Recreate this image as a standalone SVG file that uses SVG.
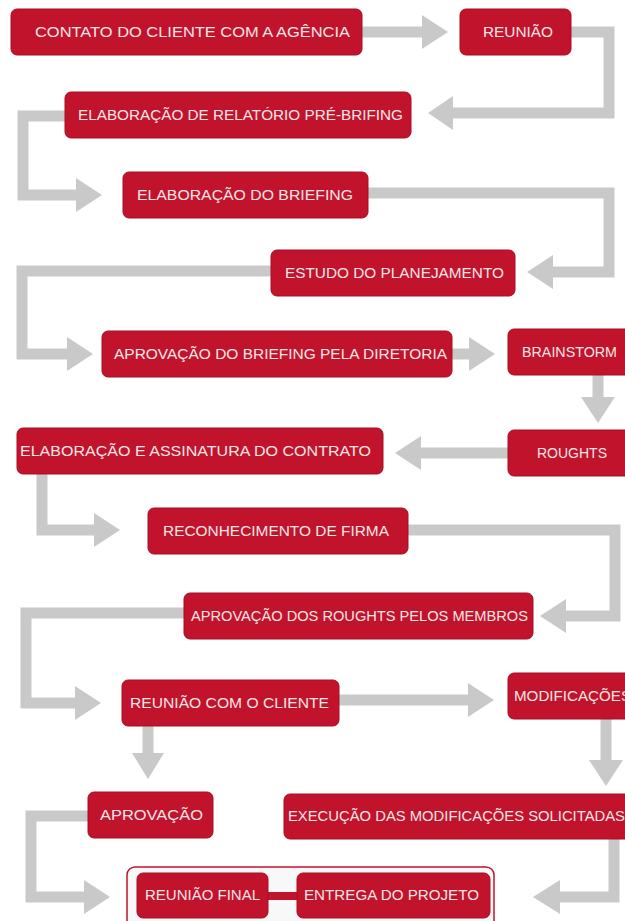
<svg xmlns="http://www.w3.org/2000/svg" width="625" height="921" viewBox="0 0 625 921">
<style>
.n{fill:#c1132b;stroke:#a90f24;stroke-width:1}
.t{fill:#f7e6e6;font-family:"Liberation Sans",Arial,sans-serif;font-size:14px;text-anchor:start}
.c{fill:none;stroke:#c9c9c9;stroke-width:11;stroke-linejoin:miter}
.h{fill:#c9c9c9}
</style>
<rect width="625" height="921" fill="#ffffff"/>
<g id="connectors">
<path class="c" d="M362,32 H423"/><polygon class="h" points="422,15 448,32 422,49"/>
<path class="c" d="M571,32 H609 V113 H452"/><polygon class="h" points="453,96 428,113 453,130"/>
<path class="c" d="M65,116 H23 V195 H77"/><polygon class="h" points="76,178 102,195 76,212"/>
<path class="c" d="M368,193 H609 V272 H552"/><polygon class="h" points="553,255 527,272 553,289"/>
<path class="c" d="M271,271 H22 V354 H68"/><polygon class="h" points="67,337 93,354 67,371"/>
<path class="c" d="M452,354 H470"/><polygon class="h" points="469,337 495,354 469,371"/>
<path class="c" d="M598,375 V398"/><polygon class="h" points="581,397 598,423 615,397"/>
<path class="c" d="M508,453 H420"/><polygon class="h" points="421,436 395,453 421,470"/>
<path class="c" d="M42,474 V530 H95"/><polygon class="h" points="94,513 120,530 94,547"/>
<path class="c" d="M408,530 H615 V616 H565"/><polygon class="h" points="566,599 540,616 566,633"/>
<path class="c" d="M184,613 H26 V703 H76"/><polygon class="h" points="75,686 101,703 75,720"/>
<path class="c" d="M339,700 H469"/><polygon class="h" points="468,683 494,700 468,717"/>
<path class="c" d="M148,726 V754"/><polygon class="h" points="132,753 148,779 164,753"/>
<path class="c" d="M606,719 V761"/><polygon class="h" points="589,760 606,786 623,760"/>
<path class="c" d="M88,816 H31 V897 H85"/><polygon class="h" points="84,880 110,897 84,914"/>
<path class="c" d="M614,839 V897 H559"/><polygon class="h" points="560,880 533,897 560,914"/>
</g>
<g id="n1"><rect class="n" x="11" y="9" width="351" height="46" rx="6"/><text class="t" x="35" y="37" textLength="315" lengthAdjust="spacingAndGlyphs">CONTATO DO CLIENTE COM A AGÊNCIA</text></g>
<g id="n2"><rect class="n" x="460" y="9" width="111" height="46" rx="6"/><text class="t" x="483" y="37" textLength="70" lengthAdjust="spacingAndGlyphs">REUNIÃO</text></g>
<g id="n3"><rect class="n" x="65" y="92" width="346" height="46" rx="6"/><text class="t" x="78" y="120" textLength="325" lengthAdjust="spacingAndGlyphs">ELABORAÇÃO DE RELATÓRIO PRÉ-BRIFING</text></g>
<g id="n4"><rect class="n" x="123" y="172" width="245" height="46" rx="6"/><text class="t" x="137" y="200" textLength="216" lengthAdjust="spacingAndGlyphs">ELABORAÇÃO DO BRIEFING</text></g>
<g id="n5"><rect class="n" x="271" y="250" width="244" height="46" rx="6"/><text class="t" x="285" y="278" textLength="219" lengthAdjust="spacingAndGlyphs">ESTUDO DO PLANEJAMENTO</text></g>
<g id="n6"><rect class="n" x="102" y="331" width="350" height="46" rx="6"/><text class="t" x="114" y="359" textLength="333" lengthAdjust="spacingAndGlyphs">APROVAÇÃO DO BRIEFING PELA DIRETORIA</text></g>
<g id="n7"><rect class="n" x="508" y="329" width="130" height="46" rx="6"/><text class="t" x="522" y="357" textLength="95" lengthAdjust="spacingAndGlyphs">BRAINSTORM</text></g>
<g id="n8"><rect class="n" x="508" y="430" width="130" height="46" rx="6"/><text class="t" x="537" y="458" textLength="70" lengthAdjust="spacingAndGlyphs">ROUGHTS</text></g>
<g id="n9"><rect class="n" x="17" y="428" width="366" height="46" rx="6"/><text class="t" x="20" y="456" textLength="351" lengthAdjust="spacingAndGlyphs">ELABORAÇÃO E ASSINATURA DO CONTRATO</text></g>
<g id="n10"><rect class="n" x="148" y="508" width="260" height="46" rx="6"/><text class="t" x="163" y="536" textLength="226" lengthAdjust="spacingAndGlyphs">RECONHECIMENTO DE FIRMA</text></g>
<g id="n11"><rect class="n" x="184" y="593" width="349" height="46" rx="6"/><text class="t" x="191" y="621" textLength="337" lengthAdjust="spacingAndGlyphs">APROVAÇÃO DOS ROUGHTS PELOS MEMBROS</text></g>
<g id="n12"><rect class="n" x="122" y="680" width="217" height="46" rx="6"/><text class="t" x="130" y="708" textLength="199" lengthAdjust="spacingAndGlyphs">REUNIÃO COM O CLIENTE</text></g>
<g id="n13"><rect class="n" x="508" y="673" width="130" height="46" rx="6"/><text class="t" x="514" y="701" textLength="117" lengthAdjust="spacingAndGlyphs">MODIFICAÇÕES</text></g>
<g id="n14"><rect class="n" x="88" y="792" width="125" height="46" rx="6"/><text class="t" x="100" y="820" textLength="103" lengthAdjust="spacingAndGlyphs">APROVAÇÃO</text></g>
<g id="n15"><rect class="n" x="284" y="794" width="350" height="45" rx="6"/><text class="t" x="288" y="821" textLength="337" lengthAdjust="spacingAndGlyphs">EXECUÇÃO DAS MODIFICAÇÕES SOLICITADAS</text></g>
<g id="n16"><rect x="127" y="867" width="367" height="62" rx="8" fill="#f8f8f8" stroke="#c1132b" stroke-width="1.5"/>
<path d="M268,896 H297" stroke="#c1132b" stroke-width="8" fill="none"/></g>
<g id="n17"><rect class="n" x="137" y="873" width="131" height="45" rx="6"/><text class="t" x="145" y="900" textLength="115" lengthAdjust="spacingAndGlyphs">REUNIÃO FINAL</text></g>
<g id="n18"><rect class="n" x="297" y="873" width="193" height="45" rx="6"/><text class="t" x="304" y="900" textLength="175" lengthAdjust="spacingAndGlyphs">ENTREGA DO PROJETO</text></g>
</svg>
